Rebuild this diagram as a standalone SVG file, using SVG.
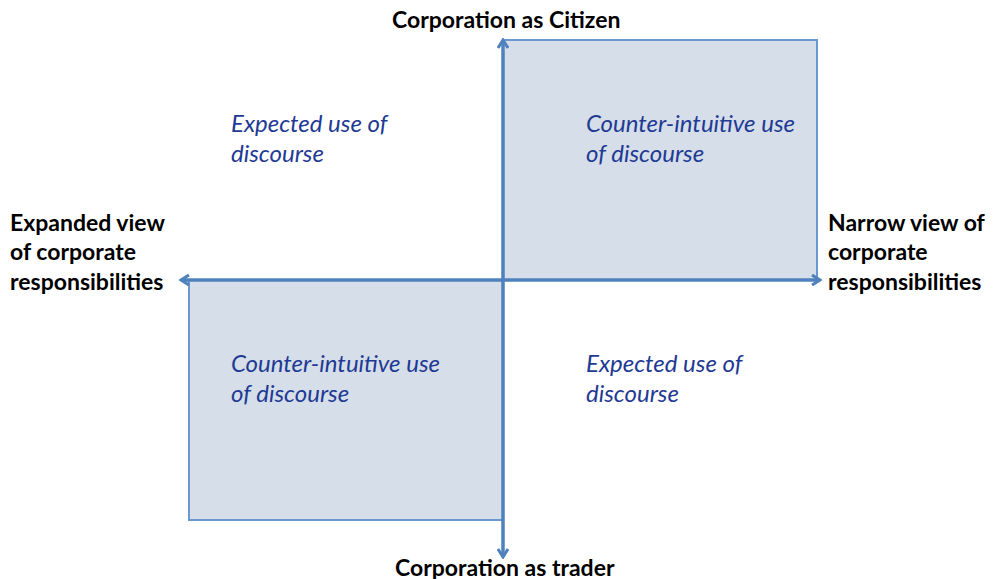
<svg xmlns="http://www.w3.org/2000/svg" width="1001" height="579" viewBox="0 0 1001 579">
<defs>
<style>
.quad{fill:#D5DEE9;stroke:#6B98CE;stroke-width:2}
.axis{fill:none;stroke:#4F81BD;stroke-width:3}
.lbl{font-family:Lato,"Open Sans","Liberation Sans",sans-serif;font-weight:bold;font-size:23px;fill:#000}
.q{font-family:Lato,"Open Sans","Liberation Sans",sans-serif;font-style:italic;font-size:24px;fill:#1F3A94}
</style>
<marker id="arr" viewBox="0 0 12 12" refX="10" refY="6" markerWidth="12" markerHeight="12" markerUnits="userSpaceOnUse" orient="auto">
<path d="M2,1 L10,6 L2,11" fill="none" stroke="#4F81BD" stroke-width="3" stroke-linejoin="miter"/>
</marker>
</defs>
<rect width="1001" height="579" fill="#fff"/>
<g id="quad-top-right">
<rect class="quad" x="503" y="40" width="314" height="240"/>
<text class="q" x="586" y="132">Counter-intuitive use</text>
<text class="q" x="586" y="162">of discourse</text>
</g>
<g id="quad-bottom-left">
<rect class="quad" x="189" y="280" width="314" height="240"/>
<text class="q" x="231" y="372">Counter-intuitive use</text>
<text class="q" x="231" y="402">of discourse</text>
</g>
<g id="quad-top-left">
<text class="q" x="231" y="132">Expected use of</text>
<text class="q" x="231" y="162">discourse</text>
</g>
<g id="quad-bottom-right">
<text class="q" x="586" y="372">Expected use of</text>
<text class="q" x="586" y="402">discourse</text>
</g>
<g id="connectors">
<line class="axis" x1="503" y1="557" x2="503" y2="40" marker-end="url(#arr)"/>
<line class="axis" x1="503" y1="40" x2="503" y2="557" marker-end="url(#arr)"/>
<line class="axis" x1="820" y1="280" x2="181" y2="280" marker-end="url(#arr)"/>
<line class="axis" x1="181" y1="280" x2="820" y2="280" marker-end="url(#arr)"/>
</g>
<g id="label-top">
<text class="lbl" x="392" y="28">Corporation as Citizen</text>
</g>
<g id="label-bottom">
<text class="lbl" x="395" y="576">Corporation as trader</text>
</g>
<g id="label-left">
<text class="lbl" x="10" y="231">Expanded view</text>
<text class="lbl" x="10" y="260">of corporate</text>
<text class="lbl" x="10" y="290">responsibilities</text>
</g>
<g id="label-right">
<text class="lbl" x="828" y="231">Narrow view of</text>
<text class="lbl" x="828" y="260">corporate</text>
<text class="lbl" x="828" y="290">responsibilities</text>
</g>
</svg>
